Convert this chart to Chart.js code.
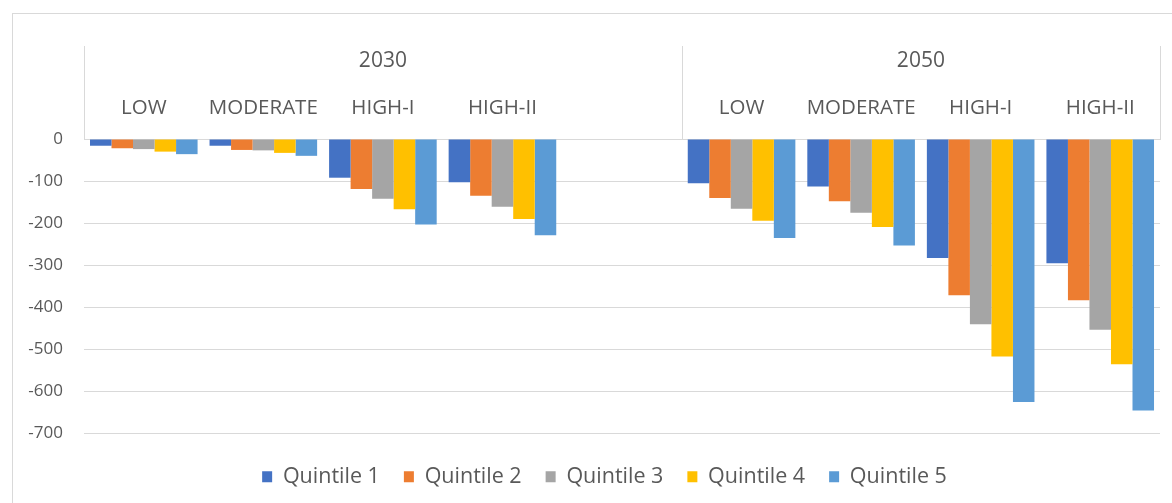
<!DOCTYPE html>
<html><head><meta charset="utf-8">
<script src="https://cdn.jsdelivr.net/npm/chart.js@4.4.1/dist/chart.umd.min.js"></script>
<style>
html,body{margin:0;padding:0;background:#fff;}
#wrap{position:relative;width:1172px;height:503px;overflow:hidden;}
#frame{position:absolute;left:12px;top:13px;width:1200px;height:600px;border-left:1px solid #d9d9d9;border-top:1px solid #d9d9d9;}
canvas{position:absolute;left:0;top:0;}
</style></head><body>
<div id="wrap"><div id="frame"></div><canvas id="c" width="1172" height="503"></canvas></div>
<script>
const categories = ['LOW','MODERATE','HIGH-I','HIGH-II','','LOW','MODERATE','HIGH-I','HIGH-II'];
const categoryYears = ['2030','2030','2030','2030','2030','2050','2050','2050','2050'];
const years = ['2030','2050'];
const seriesNames = ['Quintile 1','Quintile 2','Quintile 3','Quintile 4','Quintile 5'];
const q1 = [-16,-16,-92,-103,null,-105,-113,-283,-295];
const q2 = [-22,-26,-119,-135,null,-140,-148,-371,-383];
const q3 = [-24,-27,-142,-161,null,-166,-175,-440,-453];
const q4 = [-30,-33,-167,-190,null,-194,-209,-517,-535];
const q5 = [-36,-40,-203,-229,null,-235,-253,-625,-645];
const yTicks = [0,-100,-200,-300,-400,-500,-600,-700];
const seriesColors = ['#4472C4','#ED7D31','#A5A5A5','#FFC000','#5B9BD5'];

const FONT = "'Open Sans', sans-serif";
const TXT = '#595959';
const LINE = '#d9d9d9';

// group boundaries / centres derived from the category -> year mapping
const boundaries = [0];
for (let i = 1; i < categoryYears.length; i++) if (categoryYears[i] !== categoryYears[i-1]) boundaries.push(i);
boundaries.push(categoryYears.length);
const yearCenters = years.map((y, i) => (boundaries[i] + boundaries[i+1]) / 2);

const groupSeparators = {
  id: 'groupSeparators',
  afterDraw(chart) {
    const s = chart.scales.xYear;
    const ctx = chart.ctx;
    ctx.save();
    ctx.strokeStyle = LINE;
    ctx.lineWidth = 1;
    boundaries.forEach(b => {
      const x = Math.round(s.getPixelForValue(b)) + 0.5;
      ctx.beginPath();
      ctx.moveTo(x, 46);
      ctx.lineTo(x, chart.chartArea.top);
      ctx.stroke();
    });
    ctx.restore();
  }
};

// centre the legend under the plot the way the original does
const legendShift = {
  id: 'legendShift',
  afterLayout(chart) {
    const lg = chart.legend;
    if (lg) { lg.left += 24.5; lg.right += 24.5; }
  }
};

const data = {
  labels: categories,
  datasets: [q1,q2,q3,q4,q5].map((d, i) => ({
    label: seriesNames[i],
    data: d,
    backgroundColor: seriesColors[i],
    borderWidth: 0,
    categoryPercentage: 0.9,
    barPercentage: 1.0,
    xAxisID: 'x'
  }))
};

new Chart(document.getElementById('c'), {
  type: 'bar',
  data,
  plugins: [groupSeparators, legendShift],
  options: {
    responsive: false,
    devicePixelRatio: 1,
    animation: false,
    layout: { padding: { left: 0, right: 12, top: 13, bottom: 5.5 } },
    plugins: {
      legend: {
        position: 'bottom',
        labels: { boxWidth: 10, boxHeight: 11, padding: 24, color: TXT, font: { family: FONT, size: 21.5 } }
      },
      tooltip: { enabled: false }
    },
    scales: {
      x: {
        type: 'category',
        position: 'top',
        weight: 0,
        afterFit: s => { s.height = 55; },
        grid: { display: true, drawOnChartArea: false, drawTicks: false },
        border: { display: true, color: LINE, width: 1 },
        ticks: { autoSkip: false, maxRotation: 0, minRotation: 0, padding: 19, color: TXT, font: { family: FONT, size: 20.5 } }
      },
      xYear: {
        type: 'linear',
        axis: 'x',
        position: 'top',
        weight: 1,
        offset: false,
        min: 0,
        max: categories.length,
        afterBuildTicks: s => { s.ticks = yearCenters.map(v => ({ value: v })); },
        afterFit: s => { s.height = 71; },
        grid: { display: false, offset: false },
        border: { display: false },
        ticks: { autoSkip: false, maxRotation: 0, padding: 2, color: TXT, font: { family: FONT, size: 21 },
                 callback: (v, i) => years[i] }
      },
      y: {
        min: -720,
        max: 0,
        afterBuildTicks: s => { s.ticks = yTicks.map(v => ({ value: v })); },
        afterFit: s => { s.width = 84; },
        grid: { color: LINE, lineWidth: 1, drawTicks: false },
        border: { display: false },
        ticks: { padding: 21, color: TXT, font: { family: FONT, size: 17 }, callback: v => String(v) }
      }
    }
  }
});
</script>
</body></html>
